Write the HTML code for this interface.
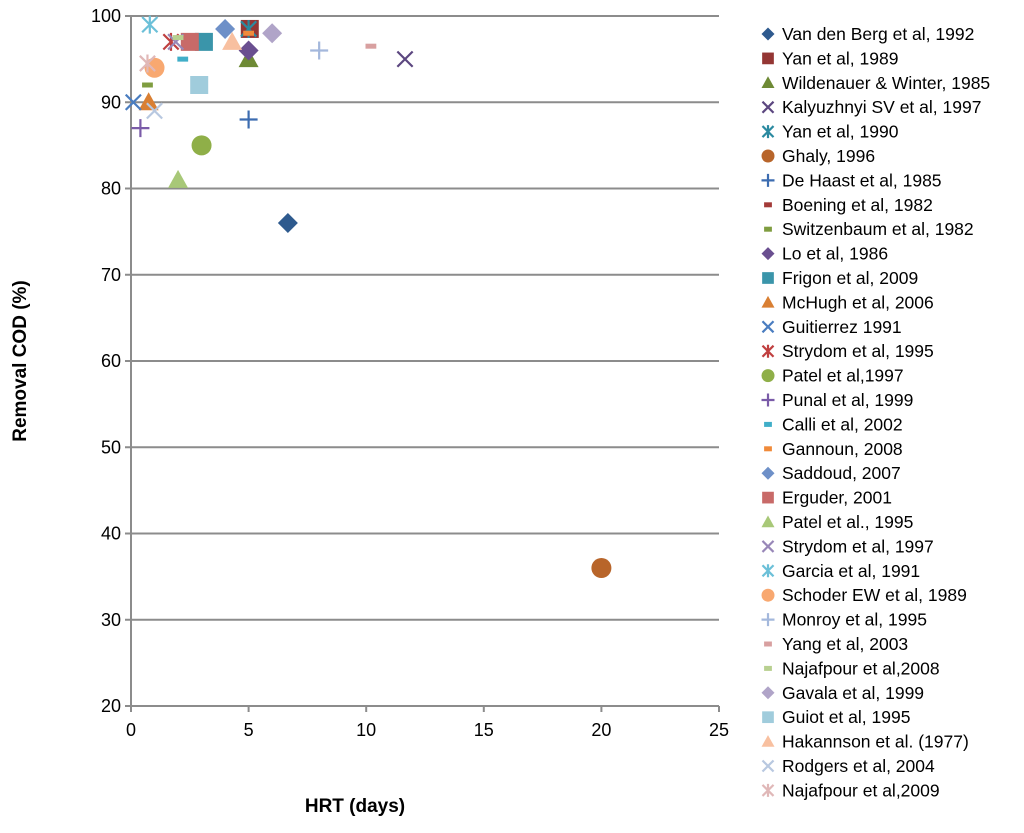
<!DOCTYPE html>
<html><head><meta charset="utf-8"><style>
body{margin:0;background:#fff;font-family:"Liberation Sans",sans-serif}
svg text{font-family:"Liberation Sans",sans-serif}
</style></head><body>
<svg id="c" width="1024" height="828" xmlns="http://www.w3.org/2000/svg"></svg>
<script>
const names=["Van den Berg  et al, 1992","Yan et al, 1989","Wildenauer & Winter, 1985","Kalyuzhnyi SV et al, 1997","Yan et al, 1990","Ghaly, 1996","De Haast  et al, 1985","Boening et al, 1982","Switzenbaum et al, 1982","Lo et al, 1986","Frigon et al, 2009","McHugh et al, 2006","Guitierrez 1991","Strydom et al, 1995","Patel et al,1997","Punal et al, 1999","Calli et al, 2002","Gannoun, 2008","Saddoud, 2007","Erguder,  2001","Patel et al., 1995","Strydom et al, 1997","Garcia et al, 1991","Schoder EW et al, 1989","Monroy et al, 1995","Yang et al, 2003","Najafpour et al,2008","Gavala et al, 1999","Guiot et al, 1995","Hakannson et al. (1977)","Rodgers et al, 2004","Najafpour et al,2009"];
const hrt=[6.67,5.05,5,11.65,5,20,5,5,0.7,5,3.1,0.75,0.1,1.7,3,0.4,2.2,5,4,2.5,2,1.9,0.8,1,8,10.2,2,6,2.9,4.3,1,0.7];
const cod=[76,98.5,95,95,98.5,36,88,98,92,96,97,90,90,97,85,87,95,98,98.5,97,81,97,99,94,96,96.5,97.5,98,92,97,89,94.5];
const shapes=["diamond","square","triangle","x","star","circle","plus","dash","dash","diamond","square","triangle","x","star","circle","plus","dash","dash","diamond","square","triangle","x","star","circle","plus","dash","dash","diamond","square","triangle","x","star"];
const colors=["#2E5A8E","#943634","#6E8A35","#5C4780","#2B8AA0","#B8652A","#3C6CB0","#A33A38","#7F9D40","#6A4F90","#3A95AA","#D97F33","#4A7DC0","#C04040","#8FAF48","#7A5BA8","#40AEC8","#F08A3A","#6E90C8","#C86A68","#A8C878","#9887B8","#6CC0D8","#F8A870","#A4B8DC","#D8A0A0","#B8D090","#B0A4C8","#A0CCDC","#F8C0A0","#B8C8E0","#E0B8B8"];
const xTicks=[0,5,10,15,20,25], yTicks=[20,30,40,50,60,70,80,90,100];
const X0=131,X1=719,Y0=706,Y1=16;
const sx=v=>X0+(v-0)/25*(X1-X0), sy=v=>Y0-(v-20)/80*(Y0-Y1);
const svg=document.getElementById('c'),NS="http://www.w3.org/2000/svg";
function el(t,a,p){const e=document.createElementNS(NS,t);for(const k in a)e.setAttribute(k,a[k]);(p||svg).appendChild(e);return e;}
yTicks.forEach(v=>{
 const l=el('line',{x1:X0-6,x2:X1,y1:sy(v),y2:sy(v),stroke:'#8c8c8c','stroke-width':2});
 
 
 const t=el('text',{x:X0-10,y:sy(v)+6,'text-anchor':'end','font-size':18,fill:'#000'});t.textContent=v;
 
 
});
const ax=el('line',{x1:X0,x2:X0,y1:Y1,y2:Y0+6,stroke:'#8c8c8c','stroke-width':2});


xTicks.forEach(v=>{
 const l=el('line',{x1:sx(v),x2:sx(v),y1:Y0,y2:Y0+6,stroke:'#8c8c8c','stroke-width':2});
 
 
 const t=el('text',{x:sx(v),y:Y0+30,'text-anchor':'middle','font-size':18});t.textContent=v;
 
 
});
function marker(shape,cx,cy,s,col,g){
 const h=s/2;let e;
 if(shape==='diamond')e=el('polygon',{points:`${cx},${cy-h} ${cx+h},${cy} ${cx},${cy+h} ${cx-h},${cy}`,fill:col},g);
 else if(shape==='square')e=el('rect',{x:cx-h*0.9,y:cy-h*0.9,width:s*0.9,height:s*0.9,fill:col},g);
 else if(shape==='triangle')e=el('polygon',{points:`${cx},${cy-h} ${cx+h},${cy+h*0.8} ${cx-h},${cy+h*0.8}`,fill:col},g);
 else if(shape==='circle')e=el('circle',{cx:cx,cy:cy,r:h,fill:col},g);
 else if(shape==='dash')e=el('rect',{x:cx-h*0.6,y:cy-2.5,width:s*0.6,height:5,fill:col},g);
 else{
  const d=h*0.85;let p='';
  if(shape==='x'||shape==='star')p+=`M${cx-d},${cy-d}L${cx+d},${cy+d}M${cx-d},${cy+d}L${cx+d},${cy-d}`;
  if(shape==='plus')p+=`M${cx-h},${cy}L${cx+h},${cy}M${cx},${cy-h}L${cx},${cy+h}`;
  if(shape==='star')p+=`M${cx},${cy-h}L${cx},${cy+h}`;
  e=el('path',{d:p,stroke:col,'stroke-width':2.2,fill:'none'},g);
 }
 return e;
}
names.forEach((n,i)=>{
 const g=el('g',{});
 
 
 const big=['dash'].includes(shapes[i])?18:(shapes[i]==='x'||shapes[i]==='plus'||shapes[i]==='star')?18:20;
 marker(shapes[i],sx(hrt[i]),sy(cod[i]),big,colors[i],g);
 const lg=el('g',{});
 
 
 const ly=34+i*24.4;
 marker(shapes[i],768,ly,13,colors[i],lg);
 const t=el('text',{x:782,y:ly+6,'font-size':17.5},lg);t.textContent=n;
});
const yt=el('text',{x:0,y:0,transform:'translate(26,361) rotate(-90)','text-anchor':'middle','font-size':19,'font-weight':'bold'});yt.textContent='Removal COD (%)';


const xt=el('text',{x:355,y:812,'text-anchor':'middle','font-size':19,'font-weight':'bold'});xt.textContent='HRT (days)';


</script>
</body></html>
